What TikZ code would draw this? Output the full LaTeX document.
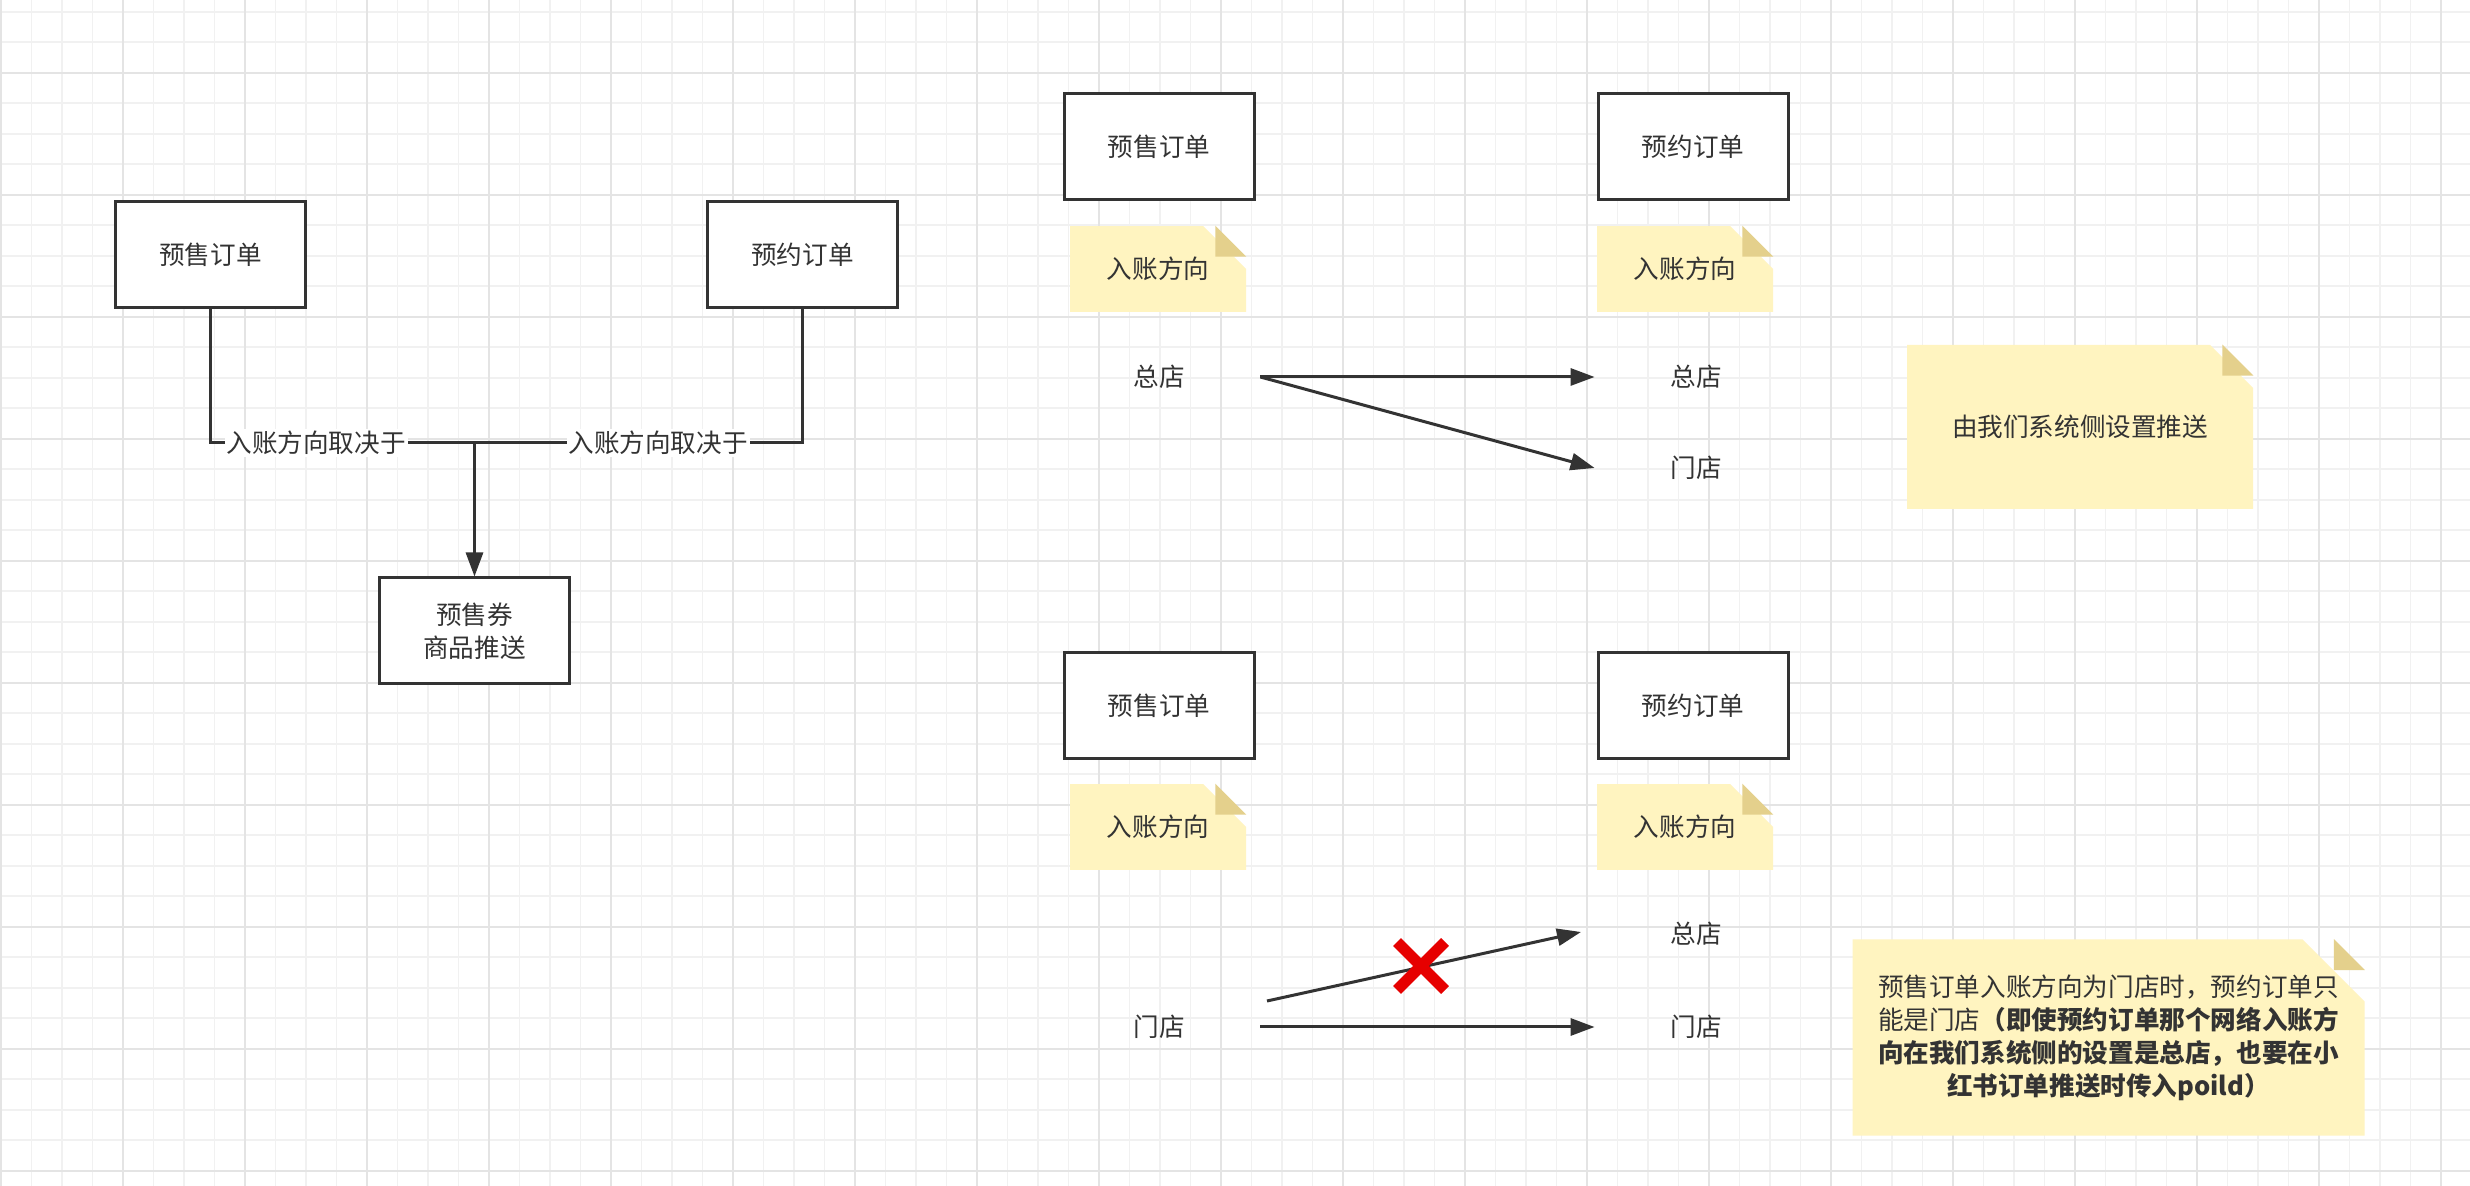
\documentclass[tikz,border=0pt]{standalone}
\usepackage{fontspec}
\setmainfont{Noto Sans CJK SC}
\usetikzlibrary{arrows.meta,shapes.misc,calc}
\definecolor{ink}{HTML}{333333}
\definecolor{gridminor}{HTML}{F1F1F1}
\definecolor{gridmajor}{HTML}{E4E4E4}
\definecolor{notefill}{HTML}{FFF4C0}
\definecolor{notefold}{HTML}{E4D08C}
\definecolor{crossred}{HTML}{E60000}

\begin{document}
\begin{tikzpicture}[x=0.5pt, y=-0.5pt, >={Triangle[length=12pt,width=8.5pt]},
    font=\fontsize{12.8pt}{16.5pt}\selectfont, text=ink,
    order/.style={draw=ink, line width=1.5pt, fill=white, minimum width=95pt, minimum height=53pt, inner sep=0pt, align=center},
    store/.style={minimum width=101pt, inner sep=0pt},
    note/.style={chamfered rectangle, chamfered rectangle corners=north east, chamfered rectangle sep=15.5pt, fill=notefill, inner sep=0pt, align=center},
    link/.style={draw=ink, line width=1.5pt},
    tag/.style={fill=white, inner sep=1pt}]
        \useasboundingbox (0,0) rectangle (2470,1186);
        \fill[white] (0,0) rectangle (2470,1186);
        \foreach \i in {0,...,80} \draw[gridminor, line width=0.9pt] ({1+30.5*\i},0) -- ({1+30.5*\i},1186);
        \foreach \j in {0,...,38} \draw[gridminor, line width=0.9pt] (0,{11.7+30.5*\j}) -- (2470,{11.7+30.5*\j});
        \foreach \i in {0,...,20} \draw[gridmajor, line width=1pt] ({1+122*\i},0) -- ({1+122*\i},1186);
        \foreach \j in {0,...,9} \draw[gridmajor, line width=1pt] (0,{72.7+122*\j}) -- (2470,{72.7+122*\j});

        \node[order] (presale) at (210.5,255) {预售订单};
        \node[order] (reserve) at (802.5,255) {预约订单};
        \node[order] (coupon) at (474.5,631) {预售券\\商品推送};
        \coordinate (hub) at (474.5,443);
        \draw[link] (presale.south) |- node[tag, pos=0.7] {入账方向取决于} (hub);
        \draw[link] (reserve.south) |- node[tag, pos=0.72] {入账方向取决于} (hub);
        \draw[link,->] (hub) -- (coupon.north);

        \node[order] (presaleA) at (1159,147) {预售订单};
        \node[order] (reserveA) at (1693,147) {预约订单};
        \node[note, minimum width=88pt, minimum height=42pt] (dirA) at (1158,269) {入账方向};
        \node[note, minimum width=88pt, minimum height=42pt] (dirB) at (1685,269) {入账方向};
        \node[store] (hqA) at (1159,377) {总店};
        \node[store] (hqB) at (1696,377) {总店};
        \node[store] (shopB) at (1696,468) {门店};
        \draw[link,->] (hqA.east) -- (hqB.west);
        \draw[link,->] (hqA.east) -- (shopB.west);
        \node[note, minimum width=173pt, minimum height=82pt] (push) at (2080,427) {由我们系统侧设置推送};

        \node[order] (presaleC) at (1159,705.5) {预售订单};
        \node[order] (reserveC) at (1693,705.5) {预约订单};
        \node[note, minimum width=88pt, minimum height=42pt] (dirC) at (1158,827) {入账方向};
        \node[note, minimum width=88pt, minimum height=42pt] (dirD) at (1685,827) {入账方向};
        \node[store] (shopC) at (1159,1027) {门店};
        \node[store] (hqD) at (1696,934) {总店};
        \node[store] (shopD) at (1696,1027) {门店};
        \coordinate (wrongfrom) at (1267,1001);
        \coordinate (wrongto) at (1581,932);
        \draw[link,->] (wrongfrom) -- (wrongto);
        \draw[link,->] (shopC.east) -- (shopD.west);
        \node[cross out, draw=crossred, line width=5.5pt, minimum size=18.5pt, inner sep=0pt] (nope) at (1421,966) {};
        \node[note, inner xsep=-15pt, minimum width=256pt, minimum height=98pt] (rule) at (2108.5,1037.5) {预售订单入账方向为门店时，预约订单只\\能是门店\textbf{（即使预约订单那个网络入账方}\\\textbf{向在我们系统侧的设置是总店，也要在小}\\\textbf{红书订单推送时传入poild）}};

        \foreach \n in {dirA,dirB,dirC,dirD,push,rule}
            \fill[notefold] ($(\n.north -| \n.east)+(-31,0)$) -- ++(0,31) -- ++(31,0) -- cycle;
    \end{tikzpicture}
\end{document}
